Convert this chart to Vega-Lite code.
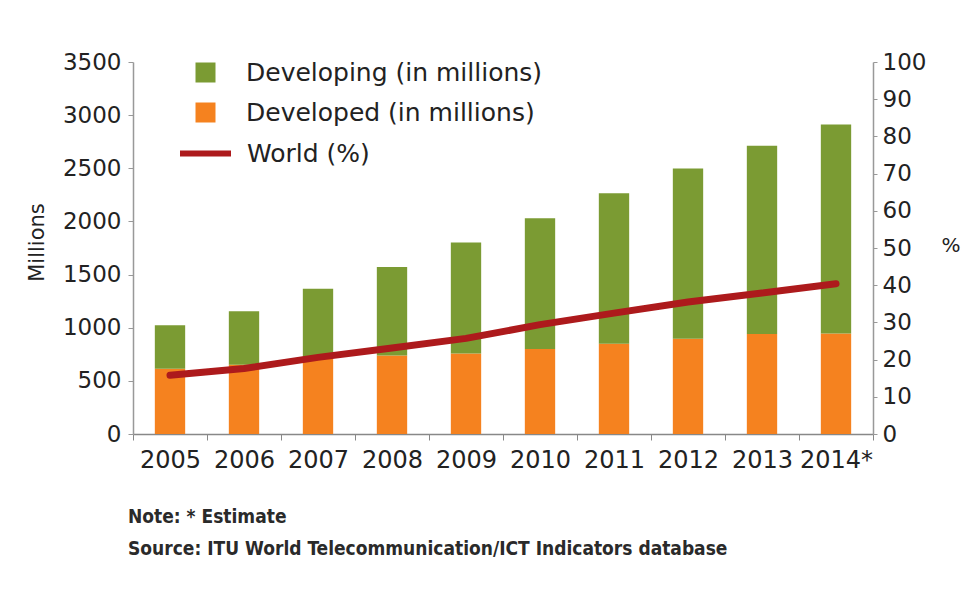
{
  "$schema": "https://vega.github.io/schema/vega-lite/v6.json",
  "width": 740,
  "height": 372,
  "autosize": "none",
  "padding": {"left": 133, "top": 62, "right": 88, "bottom": 160},
  "background": "white",
  "datasets": {
    "bars": [
      {"year": "2005", "series": "Developed (in millions)", "value": 615},
      {"year": "2005", "series": "Developing (in millions)", "value": 409},
      {"year": "2006", "series": "Developed (in millions)", "value": 651},
      {"year": "2006", "series": "Developing (in millions)", "value": 503},
      {"year": "2007", "series": "Developed (in millions)", "value": 709},
      {"year": "2007", "series": "Developing (in millions)", "value": 658},
      {"year": "2008", "series": "Developed (in millions)", "value": 739},
      {"year": "2008", "series": "Developing (in millions)", "value": 832},
      {"year": "2009", "series": "Developed (in millions)", "value": 758},
      {"year": "2009", "series": "Developing (in millions)", "value": 1044},
      {"year": "2010", "series": "Developed (in millions)", "value": 800},
      {"year": "2010", "series": "Developing (in millions)", "value": 1230},
      {"year": "2011", "series": "Developed (in millions)", "value": 850},
      {"year": "2011", "series": "Developing (in millions)", "value": 1415},
      {"year": "2012", "series": "Developed (in millions)", "value": 897},
      {"year": "2012", "series": "Developing (in millions)", "value": 1600},
      {"year": "2013", "series": "Developed (in millions)", "value": 940},
      {"year": "2013", "series": "Developing (in millions)", "value": 1772},
      {"year": "2014*", "series": "Developed (in millions)", "value": 946},
      {"year": "2014*", "series": "Developing (in millions)", "value": 1966}
    ],
    "world": [
      {"year": "2005", "series": "World (%)", "pct": 15.8},
      {"year": "2006", "series": "World (%)", "pct": 17.6},
      {"year": "2007", "series": "World (%)", "pct": 20.6},
      {"year": "2008", "series": "World (%)", "pct": 23.1},
      {"year": "2009", "series": "World (%)", "pct": 25.7},
      {"year": "2010", "series": "World (%)", "pct": 29.4},
      {"year": "2011", "series": "World (%)", "pct": 32.5},
      {"year": "2012", "series": "World (%)", "pct": 35.5},
      {"year": "2013", "series": "World (%)", "pct": 37.9},
      {"year": "2014*", "series": "World (%)", "pct": 40.4}
    ]
  },
  "title": {
    "text": ["Note: * Estimate", "Source: ITU World Telecommunication/ICT Indicators database"],
    "orient": "bottom",
    "anchor": "start",
    "frame": "group",
    "font": "DejaVu Sans Condensed, DejaVu Sans",
    "fontSize": 19,
    "fontWeight": "bold",
    "color": "#2a2a2a",
    "lineHeight": 32,
    "baseline": "top",
    "offset": 36,
    "dx": -5
  },
  "layer": [
    {
      "data": {"name": "bars"},
      "mark": {"type": "bar", "width": {"band": 0.41}},
      "encoding": {
        "x": {
          "field": "year",
          "type": "ordinal",
          "scale": {"paddingInner": 0, "paddingOuter": 0},
          "axis": {
            "title": null,
            "labelAngle": 0,
            "labelFont": "DejaVu Sans",
            "labelFontSize": 24,
            "labelColor": "#222",
            "labelPadding": 8,
            "tickBand": "extent",
            "tickSize": 6,
            "tickColor": "#888",
            "domainColor": "#888",
            "domainWidth": 1.5
          }
        },
        "y": {
          "field": "value",
          "type": "quantitative",
          "stack": "zero",
          "scale": {"domain": [0, 3500], "nice": false},
          "axis": {
            "title": "Millions",
            "titleFont": "DejaVu Sans",
            "titleFontSize": 21,
            "titleFontWeight": "normal",
            "titleColor": "#222",
            "titleX": -96,
            "titleY": 180,
            "titleAngle": -90,
            "titleAlign": "center",
            "titleBaseline": "middle",
            "values": [0, 500, 1000, 1500, 2000, 2500, 3000, 3500],
            "format": "d",
            "grid": false,
            "labelFont": "DejaVu Sans",
            "labelFontSize": 23,
            "labelColor": "#222",
            "labelPadding": 7,
            "tickSize": 5,
            "tickColor": "#999",
            "domainColor": "#999",
            "domainWidth": 1.5
          }
        },
        "color": {
          "field": "series",
          "type": "nominal",
          "scale": {
            "domain": ["Developing (in millions)", "Developed (in millions)"],
            "range": ["#7b9b33", "#f5821f"]
          },
          "legend": {
            "title": null,
            "orient": "none",
            "legendX": 60,
            "legendY": -2,
            "symbolType": "square",
            "symbolSize": 400,
            "symbolStrokeWidth": 0,
            "labelFont": "DejaVu Sans",
            "labelFontSize": 25,
            "labelColor": "#222",
            "labelOffset": 28,
            "labelLimit": 0,
            "rowPadding": 14,
            "padding": 0
          }
        },
        "order": {"field": "series", "sort": "ascending"}
      }
    },
    {
      "data": {"name": "world"},
      "mark": {"type": "line", "strokeWidth": 7, "strokeCap": "round", "strokeJoin": "round"},
      "encoding": {
        "x": {"field": "year", "type": "ordinal"},
        "y": {
          "field": "pct",
          "type": "quantitative",
          "scale": {"domain": [0, 100], "nice": false},
          "axis": {
            "orient": "right",
            "title": "%",
            "titleFont": "DejaVu Sans",
            "titleFontSize": 20,
            "titleFontWeight": "normal",
            "titleColor": "#222",
            "titleAngle": 0,
            "titleX": 68,
            "titleY": 183,
            "titleAlign": "left",
            "titleBaseline": "middle",
            "values": [0, 10, 20, 30, 40, 50, 60, 70, 80, 90, 100],
            "grid": false,
            "labelFont": "DejaVu Sans",
            "labelFontSize": 23,
            "labelColor": "#222",
            "labelPadding": 5,
            "tickSize": 4,
            "tickColor": "#999",
            "domainColor": "#999",
            "domainWidth": 1.5
          }
        },
        "stroke": {
          "field": "series",
          "type": "nominal",
          "scale": {"domain": ["World (%)"], "range": ["#ad1a1c"]},
          "legend": {
            "title": null,
            "orient": "none",
            "legendX": 44,
            "legendY": 63,
            "symbolType": "stroke",
            "symbolSize": 2601,
            "symbolStrokeWidth": 6,
            "labelFont": "DejaVu Sans",
            "labelFontSize": 25,
            "labelColor": "#222",
            "labelOffset": 13,
            "labelLimit": 0,
            "padding": 0
          }
        }
      }
    }
  ],
  "resolve": {"scale": {"y": "independent"}},
  "config": {"view": {"stroke": null}, "axisX": {"tickBand": "extent"}, "axisBand": {"tickBand": "extent"}}
}
